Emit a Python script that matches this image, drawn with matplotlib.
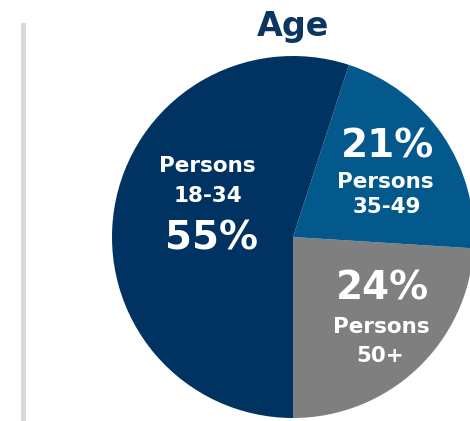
import matplotlib
matplotlib.use('Agg')
import matplotlib.pyplot as plt

# data
groups = ['Persons\n50+', 'Persons\n35-49', 'Persons\n18-34']
shares = [24, 21, 55]
colours = ['#7f7f7f', '#03598c', '#003361']
title = 'Age'

plt.rcParams['font.family'] = ['DejaVu Sans']

fig = plt.figure(figsize=(4.70, 4.21), dpi=100)
ax = fig.add_axes([0, 0, 1, 1])

# pie centre at pixel (293, 237), radius 181 px
cx, cy, r = 293, 237, 181
W, H = 470, 421
def px(x, y):
    return (x - cx) / r, (cy - y) / r

ax.pie(shares, colors=colours, startangle=-90, counterclock=True,
       wedgeprops=dict(linewidth=0))
ax.set_xlim(-cx / r, (W - cx) / r)
ax.set_ylim(-(H - cy) / r, cy / r)
ax.set_aspect('auto')
ax.axis('off')

txt = dict(color='white', fontweight='bold', ha='center', va='baseline')
big, small = 28, 15.5
# 18-34
ax.text(*px(207, 172), 'Persons', fontsize=small, **txt)
ax.text(*px(208, 202), '18-34', fontsize=small, **txt)
ax.text(*px(212, 250), '%d%%' % shares[2], fontsize=big, **txt)
# 35-49
ax.text(*px(387, 157), '%d%%' % shares[1], fontsize=big, **txt)
ax.text(*px(385, 188), 'Persons', fontsize=small, **txt)
ax.text(*px(387, 213), '35-49', fontsize=small, **txt)
# 50+
ax.text(*px(382, 300), '%d%%' % shares[0], fontsize=big, **txt)
ax.text(*px(381, 333), 'Persons', fontsize=small, **txt)
ax.text(*px(380, 362), '50+', fontsize=small, **txt)

# title
ax.text(*px(293, 36), title, fontsize=24, fontweight='bold', color='#0c3662',
        ha='center', va='baseline')

# grey divider on the left
fig.add_artist(plt.Rectangle((21 / W, 0), 5 / W, (421 - 23) / H,
                             transform=fig.transFigure, color='#d9d9d9', lw=0))

fig.savefig('out.png', dpi=100)
